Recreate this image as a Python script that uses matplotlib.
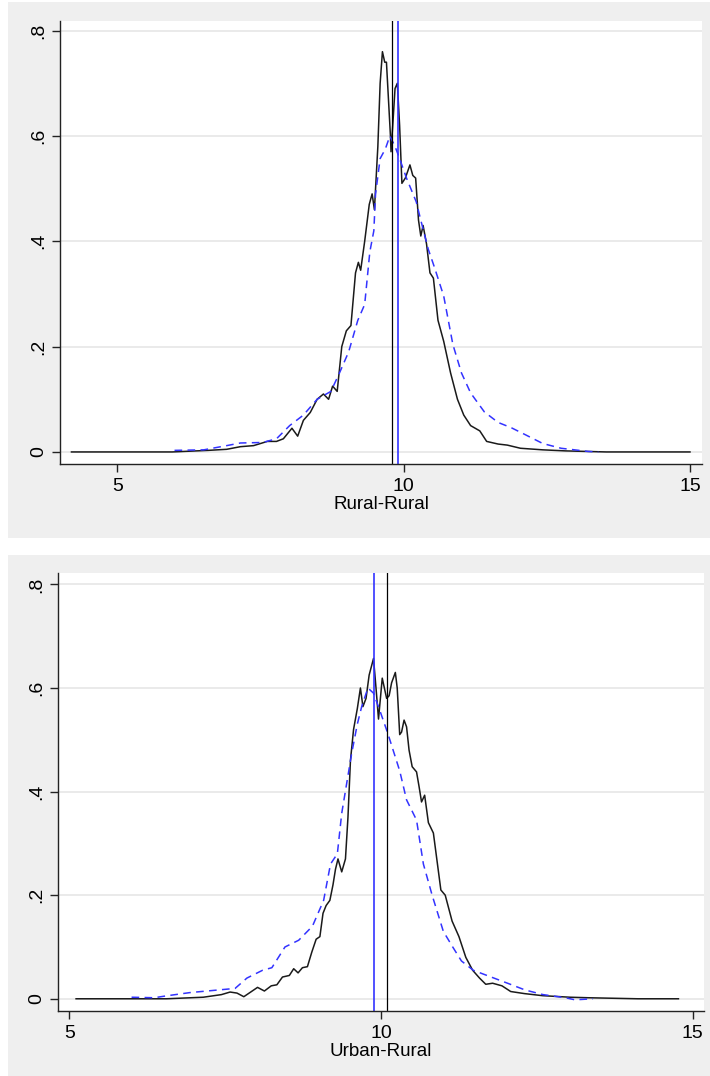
import matplotlib
matplotlib.use("Agg")
import matplotlib.pyplot as plt
from matplotlib.patches import Rectangle

plt.rcParams['font.family'] = ['Liberation Sans', 'DejaVu Sans']

# ================= DATA =================
# Rural-Rural: black solid density
rr_black_x = [4.20, 5.96, 6.59, 6.91, 7.15, 7.38, 7.62, 7.78, 7.90, 8.05, 8.15, 8.25, 8.37,
              8.49, 8.60, 8.69, 8.76, 8.84, 8.92, 9.00, 9.08, 9.16, 9.21, 9.25, 9.32, 9.40,
              9.45, 9.49, 9.55, 9.59, 9.63, 9.67, 9.70, 9.74, 9.77, 9.78, 9.81, 9.85, 9.89,
              9.93, 9.97, 10.03, 10.11, 10.16, 10.21, 10.26, 10.30, 10.34, 10.40, 10.46,
              10.52, 10.60, 10.70, 10.82, 10.94, 11.05, 11.17, 11.33, 11.45, 11.65, 11.81,
              12.04, 12.43, 12.83, 13.54, 15.00]
rr_black_y = [0.0, 0.0, 0.003, 0.005, 0.010, 0.012, 0.020, 0.020, 0.025, 0.045, 0.030, 0.060,
              0.075, 0.100, 0.110, 0.100, 0.125, 0.115, 0.200, 0.230, 0.240, 0.340, 0.360,
              0.345, 0.400, 0.470, 0.490, 0.460, 0.580, 0.700, 0.760, 0.740, 0.740, 0.660,
              0.600, 0.570, 0.620, 0.690, 0.700, 0.620, 0.510, 0.520, 0.545, 0.525, 0.520,
              0.440, 0.410, 0.430, 0.395, 0.340, 0.330, 0.250, 0.210, 0.150, 0.100, 0.070,
              0.050, 0.040, 0.020, 0.015, 0.013, 0.007, 0.004, 0.002, 0.0, 0.0]

# Rural-Rural: blue dashed density
rr_blue_x = [6.00, 6.51, 6.91, 7.15, 7.54, 7.78, 8.01, 8.25, 8.49, 8.73, 8.88, 9.04, 9.20,
             9.32, 9.41, 9.48, 9.51, 9.59, 9.68, 9.76, 9.85, 9.93, 10.05, 10.22, 10.30,
             10.43, 10.54, 10.70, 10.86, 11.01, 11.17, 11.41, 11.65, 11.88, 12.12, 12.43,
             12.75, 13.22, 13.40]
rr_blue_y = [0.003, 0.004, 0.012, 0.017, 0.018, 0.025, 0.050, 0.070, 0.100, 0.115, 0.150,
             0.190, 0.250, 0.280, 0.380, 0.420, 0.490, 0.557, 0.575, 0.600, 0.580, 0.557,
             0.520, 0.475, 0.440, 0.385, 0.350, 0.296, 0.204, 0.150, 0.112, 0.076, 0.056,
             0.046, 0.033, 0.016, 0.007, 0.001, 0.0]

# Urban-Rural: black solid density
ur_black_x = [5.11, 6.56, 7.15, 7.44, 7.58, 7.69, 7.80, 7.91, 8.02, 8.13, 8.24, 8.33, 8.42,
              8.53, 8.60, 8.67, 8.74, 8.82, 8.89, 8.96, 9.02, 9.07, 9.12, 9.18, 9.23, 9.27,
              9.31, 9.37, 9.43, 9.47, 9.51, 9.56, 9.62, 9.67, 9.71, 9.76, 9.81, 9.88, 9.92,
              9.96, 10.02, 10.09, 10.13, 10.17, 10.23, 10.26, 10.30, 10.33, 10.37, 10.41,
              10.45, 10.50, 10.57, 10.61, 10.65, 10.70, 10.76, 10.84, 10.96, 11.03, 11.14,
              11.25, 11.36, 11.47, 11.58, 11.68, 11.79, 11.94, 12.08, 12.30, 12.59, 13.03,
              13.32, 14.12, 14.77]
ur_black_y = [0.0, 0.0, 0.003, 0.008, 0.013, 0.011, 0.004, 0.013, 0.022, 0.015, 0.025, 0.027,
              0.042, 0.045, 0.058, 0.050, 0.060, 0.062, 0.090, 0.115, 0.120, 0.165, 0.180,
              0.190, 0.220, 0.250, 0.270, 0.245, 0.270, 0.350, 0.460, 0.520, 0.560, 0.600,
              0.564, 0.580, 0.625, 0.657, 0.600, 0.540, 0.619, 0.580, 0.585, 0.610, 0.630,
              0.600, 0.510, 0.515, 0.538, 0.525, 0.480, 0.448, 0.438, 0.410, 0.380, 0.393,
              0.340, 0.320, 0.210, 0.200, 0.150, 0.120, 0.080, 0.055, 0.040, 0.028, 0.030,
              0.025, 0.014, 0.010, 0.006, 0.003, 0.002, 0.0, 0.0]

# Urban-Rural: blue dashed density
ur_blue_x = [6.00, 6.36, 6.58, 6.94, 7.30, 7.66, 7.85, 8.10, 8.25, 8.46, 8.68, 8.90, 9.08,
             9.19, 9.30, 9.37, 9.53, 9.62, 9.69, 9.79, 9.88, 9.98, 10.11, 10.30, 10.41,
             10.57, 10.68, 10.82, 11.00, 11.15, 11.29, 11.48, 11.59, 11.81, 12.03, 12.31,
             12.60, 12.96, 13.11, 13.40]
ur_blue_y = [0.003, 0.002, 0.006, 0.012, 0.016, 0.020, 0.040, 0.055, 0.060, 0.100, 0.113,
             0.140, 0.190, 0.260, 0.280, 0.358, 0.474, 0.530, 0.564, 0.600, 0.590, 0.557,
             0.512, 0.440, 0.384, 0.345, 0.260, 0.200, 0.130, 0.100, 0.073, 0.055, 0.050,
             0.040, 0.030, 0.017, 0.008, 0.002, -0.002, 0.0]

# vertical reference lines (black mean, blue mean)
rr_vlines = [9.80, 9.90]
ur_vlines = [10.09, 9.89]

y_ticks = [0, 0.2, 0.4, 0.6, 0.8]
y_labels = ["0", ".2", ".4", ".6", ".8"]
x_ticks = [5, 10, 15]

BG = "#efefef"
BLUE = "#3333ff"

# ================= FIGURE =================
fig = plt.figure(figsize=(7.10, 10.76), dpi=100)
fig.patch.set_facecolor("white")
# grey panel backgrounds (pixel coords -> figure fraction), kept behind the axes
fig.patches.append(Rectangle((8 / 710, 1 - 538 / 1076), 702 / 710, 536 / 1076,
                             transform=fig.transFigure, facecolor=BG, edgecolor="none", zorder=-5))
fig.patches.append(Rectangle((8 / 710, 0), 702 / 710, 1 - 555 / 1076,
                             transform=fig.transFigure, facecolor=BG, edgecolor="none", zorder=-5))

ax1 = fig.add_axes([60 / 710, 1 - 463.8 / 1076, 642 / 710, 443.1 / 1076])
ax2 = fig.add_axes([58 / 710, 1 - 1011 / 1076, 646 / 710, 438 / 1076])


def style_axis(ax, xlim, ylim, label):
    ax.set_facecolor("white")
    ax.set_xlim(*xlim)
    ax.set_ylim(*ylim)
    ax.set_xticks(x_ticks)
    ax.set_yticks(y_ticks)
    ax.set_yticklabels(y_labels, rotation=90, va="center")
    ax.tick_params(axis="both", direction="out", length=6, width=1, colors="#222222",
                   labelsize=14, labelcolor="black")
    ax.tick_params(axis="y", pad=3)
    ax.tick_params(axis="x", pad=4)
    for side in ["top", "right"]:
        ax.spines[side].set_visible(False)
    for side in ["left", "bottom"]:
        ax.spines[side].set_color("#222222")
        ax.spines[side].set_linewidth(1.0)
    ax.grid(axis="y", color="#e8e8e8", linewidth=1.3)
    ax.set_axisbelow(True)
    ax.set_xlabel(label, fontsize=13.5, labelpad=1)


# ---- top panel ----
ax1.plot(rr_black_x, rr_black_y, color="#1a1a1a", linewidth=1.1)
ax1.plot(rr_blue_x, rr_blue_y, color=BLUE, linewidth=1.1, dashes=(5, 3.5))
ax1.axvline(rr_vlines[0], color="black", linewidth=0.9)
ax1.axvline(rr_vlines[1], color=BLUE, linewidth=1.2)
style_axis(ax1, (4.0, 15.21), (-0.0225, 0.8188), "Rural-Rural")

# ---- bottom panel ----
ax2.plot(ur_black_x, ur_black_y, color="#1a1a1a", linewidth=1.1)
ax2.plot(ur_blue_x, ur_blue_y, color=BLUE, linewidth=1.1, dashes=(5, 3.5))
ax2.axvline(ur_vlines[0], color="black", linewidth=0.9)
ax2.axvline(ur_vlines[1], color=BLUE, linewidth=1.2)
style_axis(ax2, (4.82, 15.18), (-0.0236, 0.822), "Urban-Rural")

fig.savefig("out.png", dpi=100, facecolor=fig.get_facecolor())
